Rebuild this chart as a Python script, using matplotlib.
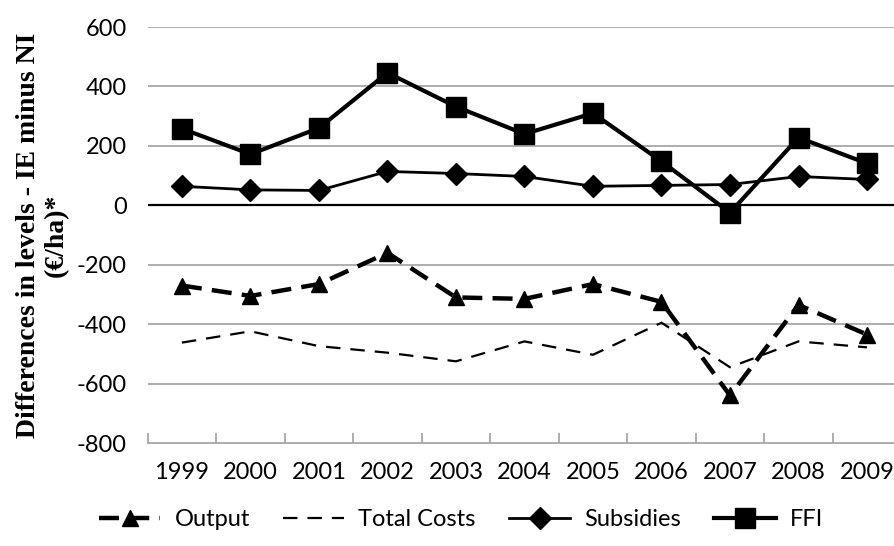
import matplotlib
matplotlib.use("Agg")
import matplotlib.pyplot as plt

years = ['1999', '2000', '2001', '2002', '2003', '2004', '2005', '2006', '2007', '2008', '2009']
output = [-270, -305, -265, -160, -310, -315, -265, -325, -640, -335, -435]
total_costs = [-462, -424, -474, -496, -525, -458, -503, -395, -545, -458, -478]
subsidies = [64, 52, 50, 114, 107, 97, 64, 67, 70, 97, 87]
ffi = [258, 172, 260, 446, 332, 240, 310, 148, -25, 228, 141]

plt.rcParams['font.family'] = ['Lato', 'DejaVu Sans']
plt.rcParams['axes.unicode_minus'] = False

fig = plt.figure(figsize=(8.95, 5.46), dpi=100)
ax = fig.add_axes([0.165, 0.1886, 0.842, 0.7619])

x = list(range(len(years)))

# 网格线
for v in range(-600, 601, 200):
    ax.axhline(v, color='black' if v == 0 else '#a0a0a0', lw=1.6 if v == 0 else 1.2, zorder=1)

ax.plot(x, output, color='black', lw=3.2, dashes=(4.5, 2.3), marker='^', ms=12,
        label='Output', zorder=3)
ax.plot(x, total_costs, color='black', lw=1.6, dashes=(6.5, 4.5), label='Total Costs', zorder=3)
ax.plot(x, subsidies, color='black', lw=2.0, marker='D', ms=11, label='Subsidies', zorder=3)
ax.plot(x, ffi, color='black', lw=3.0, marker='s', ms=15, label='FFI', zorder=3)

ax.set_xlim(-0.5, len(years) - 0.5)
ax.set_ylim(-800, 600)
ax.set_yticks(range(-800, 601, 200))
ax.set_xticks(x)
ax.set_xticklabels(years)
ax.set_xticks([i - 0.5 for i in range(len(years) + 1)], minor=True)
ax.tick_params(axis='x', which='major', length=0, labelsize=17, pad=14)
ax.tick_params(axis='x', which='minor', direction='in', length=7, width=1.2, color='#a0a0a0')
ax.tick_params(axis='y', length=0, labelsize=17, pad=15)

for s in ['top', 'right', 'left']:
    ax.spines[s].set_visible(False)
ax.spines['bottom'].set_color('#a0a0a0')
ax.spines['bottom'].set_linewidth(1.2)

ax.set_ylabel('Differences in levels - IE minus NI\n(€/ha)*', family=['Liberation Serif', 'DejaVu Serif'],
              fontweight='bold', fontsize=20, linespacing=1.1, labelpad=6)

fig.legend(loc='lower center', bbox_to_anchor=(0.515, -0.01), ncol=4, frameon=False,
           fontsize=17, handlelength=2.6, columnspacing=1.4, handletextpad=0.6)

fig.savefig('out.png', dpi=100)
